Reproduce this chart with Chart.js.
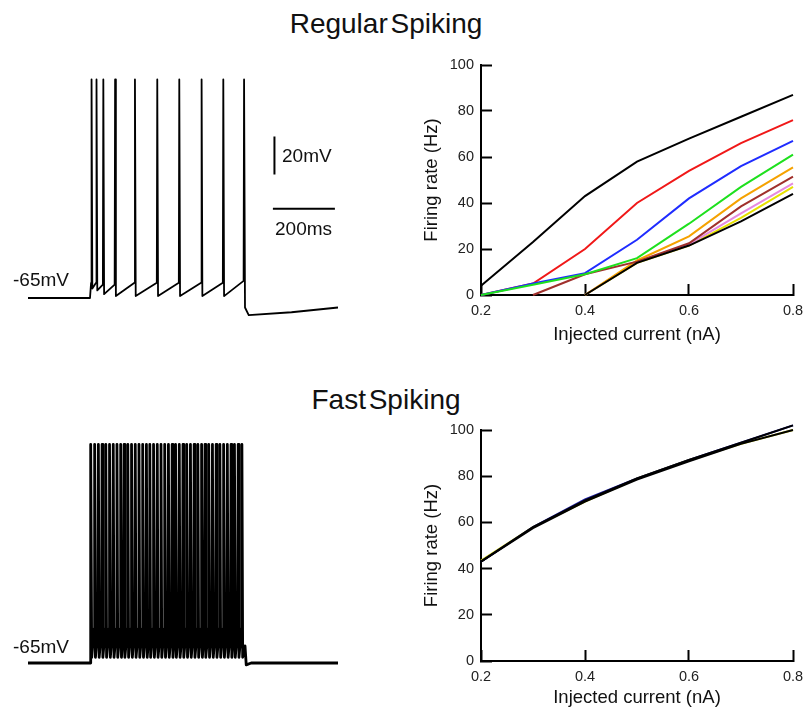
<!DOCTYPE html>
<html>
<head>
<meta charset="utf-8">
<script src="https://cdn.jsdelivr.net/npm/chart.js@4.4.1/dist/chart.umd.min.js"></script>
<style>
  body { margin: 0; background: #fff; }
  #fig { position: relative; width: 805px; height: 709px; overflow: hidden; font-family: "Liberation Sans", Arial, Helvetica, sans-serif; color: #111; }
  .box { position: absolute; }
  .title { position: absolute; left: 186px; width: 400px; text-align: center; font-size: 28px; line-height: 28px; word-spacing: -5px; }
  .lbl { position: absolute; font-size: 19px; line-height: 19px; white-space: nowrap; word-spacing: -3px; }
</style>
</head>
<body>
<div id="fig">
  <div class="title" style="top:10px">Regular Spiking</div>
  <div class="title" style="top:386px">Fast Spiking</div>

  <div class="box" style="left:20px;top:60px;width:330px;height:277px"><canvas id="rsTrace"></canvas></div>
  <div class="box" style="left:20px;top:425px;width:330px;height:277px"><canvas id="fsTrace"></canvas></div>
  <div class="box" style="left:410px;top:50px;width:395px;height:300px"><canvas id="rsFI"></canvas></div>
  <div class="box" style="left:410px;top:415px;width:395px;height:294px"><canvas id="fsFI"></canvas></div>

  <div class="lbl" style="left:282px;top:146px">20mV</div>
  <div class="lbl" style="left:275px;top:219px">200ms</div>
  <div class="lbl" style="left:13px;top:270px">-65mV</div>
  <div class="lbl" style="left:13px;top:637px">-65mV</div>
</div>

<script>
// ---- F-I curves (firing rate in Hz vs injected current in nA) ----
const currents = [0.2, 0.3, 0.4, 0.5, 0.6, 0.7, 0.8];
const fiXTicks = [0.2, 0.4, 0.6, 0.8];
const fiYTicks = [0, 20, 40, 60, 80, 100];

// regular spiking, one curve per condition
const rsBlackTop    = [4, 23, 43, 58, 68, 77.5, 87];
const rsRed         = [0, 5, 20, 40, 54, 66, 76];
const rsBlue        = [0, 5, 9.5, 24, 42, 56, 67];
const rsGreen       = [0, 4.5, 9, 16, 31, 47, 61];
const rsOrange      = [null, null, 0, 15, 25.5, 42, 55.5];
const rsBrown       = [null, 0, 9, 14.5, 22.5, 38.5, 51.5];
const rsPink        = [null, null, 0, 14.5, 22, 35.5, 48.5];
const rsYellow      = [null, null, 0, 14, 21.5, 33.5, 47];
const rsBlackBottom = [null, null, 0, 14, 21.5, 32, 44];

// fast spiking, curves nearly on top of each other
const fsBlackA = [43, 58, 69.5, 79, 87, 94.5, 102];
const fsBlackB = [43, 57.5, 69, 78.5, 86.5, 94, 100];
const fsBlue   = [43, 58, 70, 79, 87, 94.5, 102];
const fsYellow = [43.5, 58, 69, 79, 87, 94, 100];

// ---- voltage traces (time ms, membrane potential mV) ----
const restV = -65;
const peakV = 50;

const rsRestT  = [0, 200];
const rsSpikeT = [205, 221, 243, 281, 345, 417, 488, 560, 630, 697];
const rsPreV   = [-57, -57, -58, -58, -57, -57, -57, -57, -57, -56];
const rsAhpV   = [-60, -61, -63, -64, -64, -64, -64, -64, -64];
const rsTailT  = [700, 712, 850, 1000];
const rsTailV  = [-70, -74, -72.5, -70];

const fsRestT  = [0, 200];
const fsSpikeT = [203, 215, 227, 239, 251, 263, 275, 287, 299, 310, 322, 334, 346, 358,
                  370, 382, 393, 405, 417, 429, 441, 453, 465, 476, 488, 500, 512, 524,
                  536, 548, 560, 571, 583, 595, 607, 619, 631, 643, 655, 666, 678, 690];
const fsPreV   = -47;
const fsAhpV   = -62;
const fsTailT  = [700, 704, 720, 1000];
const fsTailV  = [-56, -66, -65, -65];

// scale bars (drawn in trace coordinates)
const barV = [{x: 795, y: 0}, {x: 795, y: 20}];
const barT = [{x: 790, y: -18}, {x: 990, y: -18}];

Chart.defaults.font.family = '"Liberation Sans", Arial, Helvetica, sans-serif';
Chart.defaults.animation = false;

function spikeTrain(restT, spikeT, preV, ahpV, tailT, tailV) {
  const pick = (v, i) => Array.isArray(v) ? v[i] : v;
  const pts = restT.map(t => ({x: t, y: restV}));
  spikeT.forEach((t, i) => {
    pts.push({x: t - 1.5, y: pick(preV, i)});
    pts.push({x: t, y: peakV});
    const a = pick(ahpV, i);
    if (a !== undefined) pts.push({x: t + 2.5, y: a});
  });
  tailT.forEach((t, i) => pts.push({x: t, y: tailV[i]}));
  return pts;
}

function traceChart(id, points, width, extra) {
  const datasets = [{data: points, borderColor: '#000', borderWidth: width}].concat(extra || []);
  new Chart(document.getElementById(id), {
    type: 'line',
    data: {datasets: datasets.map(d => Object.assign({pointRadius: 0, borderJoinStyle: 'round', tension: 0, clip: false}, d))},
    options: {
      responsive: true, maintainAspectRatio: false,
      layout: {padding: {left: 8, right: 12, top: 10, bottom: 10.5}},
      plugins: {legend: {display: false}, tooltip: {enabled: false}},
      scales: {
        x: {type: 'linear', display: false, min: 0, max: 1000},
        y: {display: false, min: -80, max: 55}
      }
    }
  });
}

traceChart('rsTrace', spikeTrain(rsRestT, rsSpikeT, rsPreV, rsAhpV, rsTailT, rsTailV), 1.8, [
  {data: barV, borderColor: '#000', borderWidth: 2},
  {data: barT, borderColor: '#000', borderWidth: 2}
]);
traceChart('fsTrace', spikeTrain(fsRestT, fsSpikeT, fsPreV, fsAhpV, fsTailT, fsTailV), 2.8);

// negative tickLength makes the tick marks point into the plot, as in the original
const inwardGrid = {display: true, drawOnChartArea: false, drawTicks: true, tickLength: -11, tickWidth: 2, tickColor: '#000'};

function fiChart(id, series, xHeight, titlePadBottom) {
  new Chart(document.getElementById(id), {
    type: 'line',
    data: {
      datasets: series.map(([values, color]) => ({
        data: currents.map((c, i) => ({x: c, y: values[i]})),
        borderColor: color, borderWidth: 2, pointRadius: 0, tension: 0, clip: false
      }))
    },
    options: {
      responsive: true, maintainAspectRatio: false,
      layout: {padding: {left: 0, right: 12, top: 15, bottom: 0}},
      plugins: {legend: {display: false}, tooltip: {enabled: false}},
      scales: {
        x: {
          type: 'linear', min: 0.2, max: 0.8,
          afterBuildTicks: s => { s.ticks = fiXTicks.map(v => ({value: v})); },
          afterFit: s => { s.height = xHeight; s.paddingLeft = 0; s.paddingRight = 0; },
          grid: inwardGrid,
          border: {color: '#000', width: 2},
          ticks: {padding: 18, color: '#222', font: {size: 14.5}, maxRotation: 0, callback: v => v.toFixed(1)},
          title: {display: true, text: 'Injected current (nA)', color: '#111', font: {size: 18.5},
                  padding: {top: 4, bottom: titlePadBottom}}
        },
        y: {
          min: 0, max: 100,
          afterBuildTicks: s => { s.ticks = fiYTicks.map(v => ({value: v})); },
          afterFit: s => { s.width = 71; s.paddingTop = 0; s.paddingBottom = 0; },
          grid: inwardGrid,
          border: {color: '#000', width: 2},
          ticks: {padding: 18, color: '#222', font: {size: 14.5}, callback: v => String(v)},
          title: {display: true, text: 'Firing rate (Hz)', color: '#111', font: {size: 18.5},
                  padding: {top: 11, bottom: 4}}
        }
      }
    }
  });
}

// first entry is drawn on top
fiChart('rsFI', [
  [rsBlackBottom, '#000000'],
  [rsBlackTop, '#000000'],
  [rsGreen, '#1ee01e'],
  [rsBrown, '#a0302c'],
  [rsBlue, '#1f2cff'],
  [rsRed, '#f01818'],
  [rsOrange, '#f5a200'],
  [rsPink, '#e58ae0'],
  [rsYellow, '#e6e000']
], 55, 4);

fiChart('fsFI', [
  [fsBlackA, '#000000'],
  [fsBlackB, '#000000'],
  [fsBlue, '#1a1aa0'],
  [fsYellow, '#d8d800']
], 48, 0);
</script>
</body>
</html>
